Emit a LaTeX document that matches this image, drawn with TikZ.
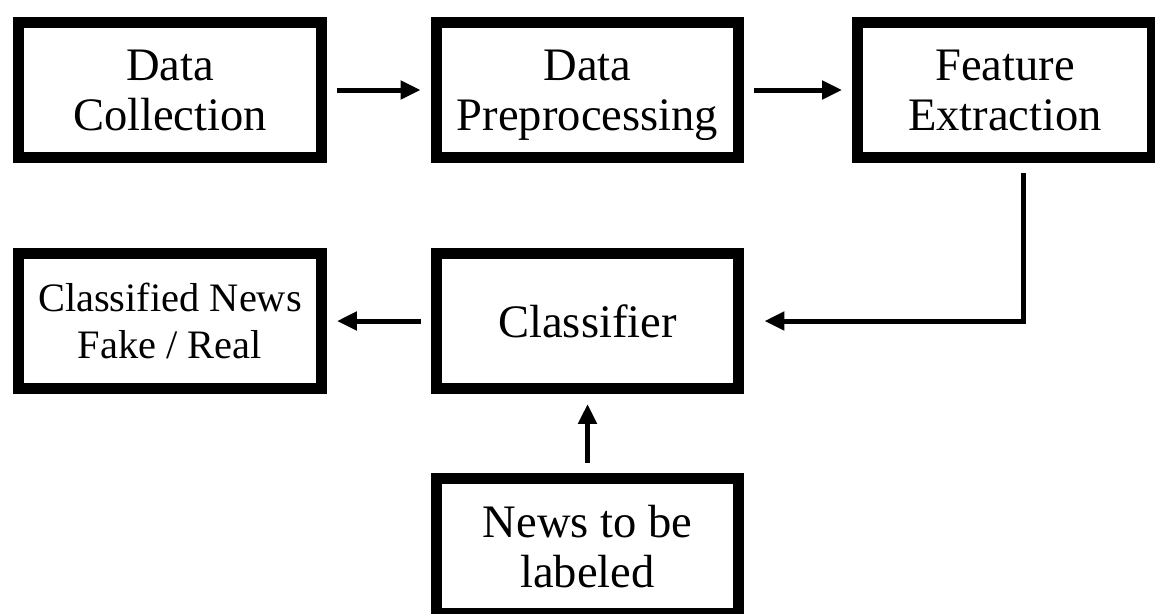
\documentclass[tikz,border=0pt]{standalone}
\usepackage{fontspec}
\setmainfont{Liberation Serif}
\usetikzlibrary{arrows.meta}

\begin{document}
\begin{tikzpicture}[x=0.02cm, y=-0.02cm,
    block/.style={draw, line width=0.22cm, minimum width=6.06cm, minimum height=2.7cm,
        align=center, outer sep=0.31cm, text depth=0pt, font=\fontsize{26.5}{28.5}\selectfont},
    arr/.style={-{Triangle[length=0.4cm,width=0.36cm]}, line width=0.1cm}]
    \useasboundingbox (0,0) rectangle (1155,613);
    \clip (0,0) rectangle (1155,613);
    % top row
    \node[block] (collect) at (170,90) {Data\\Collection};
    \node[block] (prep) at (587.5,90) {Data\\Preprocessing};
    \node[block, minimum width=5.9cm] (feature) at (1005,90) {Feature\\Extraction};
    % middle row
    \node[block, font=\fontsize{23}{27}\selectfont] (result) at (170,321) {Classified News\\Fake / Real};
    \node[block, text depth=] (classifier) at (587.5,321) {Classifier};
    % input
    \node[block] (news) at (587.5,546) {News to be\\labeled};
    \draw[arr] (collect) -- (prep);
    \draw[arr] (prep) -- (feature);
    \draw[arr, shorten >=0.2cm] ([xshift=0.36cm]feature.south) |- (classifier);
    \draw[arr] (classifier) -- (result);
    \draw[arr] (news) -- (classifier);
\end{tikzpicture}
\end{document}
